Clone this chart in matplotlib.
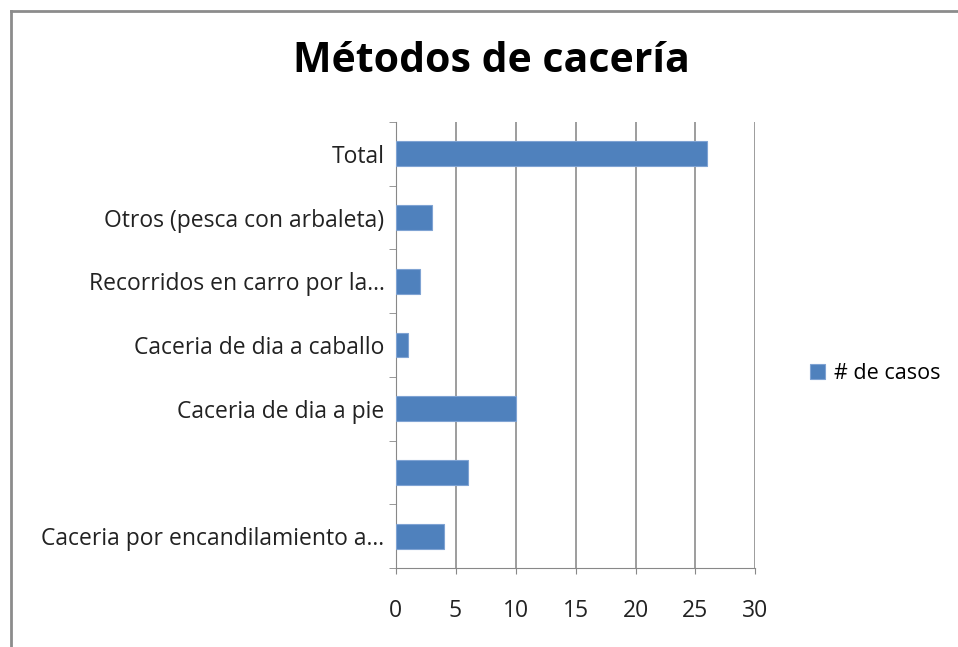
import matplotlib
matplotlib.use("Agg")
import matplotlib.pyplot as plt
from matplotlib.lines import Line2D

categories = ["Caceria por encandilamiento a...", "", "Caceria de dia a pie",
              "Caceria de dia a caballo", "Recorridos en carro por la...",
              "Otros (pesca con arbaleta)", "Total"]
values = [4, 6, 10, 1, 2, 3, 26]
series_name = "# de casos"
title = "Métodos de cacería"
xticks = [0, 5, 10, 15, 20, 25, 30]

plt.rcParams['font.family'] = ['Open Sans', 'DejaVu Sans']

W, H = 958, 647
fig = plt.figure(figsize=(W / 100, H / 100), dpi=100)
left, right, top, bottom = 395.5, 755.5, 122, 568
ax = fig.add_axes([left / W, 1 - bottom / H, (right - left) / W, (bottom - top) / H])

color = "#4F81BD"
n = len(categories)
pos = list(range(n))
ax.barh(pos, values, height=0.39, color=color, edgecolor="#7FA3D3",
        linewidth=0.8, label=series_name, zorder=3)
ax.set_ylim(-0.5, n - 0.5)
ax.set_xlim(0, 30)
ax.set_xticks(xticks)
ax.set_xticklabels([str(t) for t in xticks], fontsize=16.5, color="#222222")
ax.set_yticks(pos)
ax.set_yticklabels(categories, fontsize=16.5, color="#222222")
ax.tick_params(axis='y', length=0, pad=8)
ax.tick_params(axis='x', length=4, direction='out', color="#888888", pad=18)
ax.set_yticks([p - 0.5 for p in pos] + [n - 0.5], minor=True)
ax.tick_params(axis='y', which='minor', length=5, color="#888888", direction='out')
ax.grid(axis='x', color="#8c8c8c", linewidth=1.2, zorder=0)
for s in ["top", "right"]:
    ax.spines[s].set_visible(False)
ax.spines["left"].set_color("#888888")
ax.spines["bottom"].set_color("#888888")

fig.text(491 / W, 1 - 62 / H, title, ha="center", va="center", fontsize=29.5,
         fontweight="bold", color="black")

fig.legend(loc="center left", bbox_to_anchor=(791 / W, 1 - 374 / H),
           frameon=False, fontsize=15.5, handlelength=0.7, handleheight=0.7,
           handletextpad=0.4)

fig.add_artist(Line2D([10.5 / W, 10.5 / W], [0, 1 - 10.5 / H], transform=fig.transFigure,
                      color="#8c8c8c", linewidth=2))
fig.add_artist(Line2D([10.5 / W, 1], [1 - 10.5 / H, 1 - 10.5 / H], transform=fig.transFigure,
                      color="#8c8c8c", linewidth=2))

fig.savefig("out.png", dpi=100)
